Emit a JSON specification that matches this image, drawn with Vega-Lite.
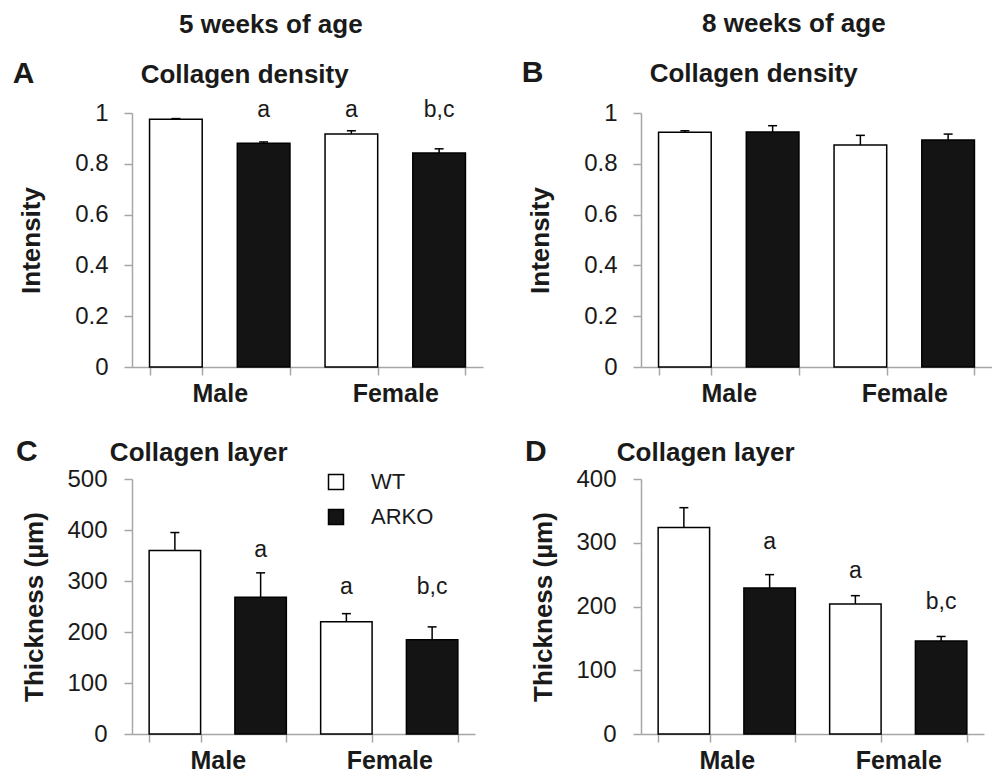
{
  "$schema": "https://vega.github.io/schema/vega-lite/v6.json",
  "padding": {"left": 12, "top": 11, "right": 0, "bottom": 0},
  "background": "white",
  "datasets": {
    "d": [
      {"panel": "A", "grp": "Male WT", "genotype": "WT", "mean": 0.975, "upper": 0.978},
      {"panel": "A", "grp": "Male ARKO", "genotype": "ARKO", "mean": 0.881, "upper": 0.886, "lab": "a", "lab_y": 0.985},
      {"panel": "A", "grp": "Female WT", "genotype": "WT", "mean": 0.917, "upper": 0.930, "lab": "a", "lab_y": 0.985},
      {"panel": "A", "grp": "Female ARKO", "genotype": "ARKO", "mean": 0.843, "upper": 0.859, "lab": "b,c", "lab_y": 0.985},
      {"panel": "B", "grp": "Male WT", "genotype": "WT", "mean": 0.924, "upper": 0.930},
      {"panel": "B", "grp": "Male ARKO", "genotype": "ARKO", "mean": 0.925, "upper": 0.950},
      {"panel": "B", "grp": "Female WT", "genotype": "WT", "mean": 0.874, "upper": 0.912},
      {"panel": "B", "grp": "Female ARKO", "genotype": "ARKO", "mean": 0.894, "upper": 0.917},
      {"panel": "C", "grp": "Male WT", "genotype": "WT", "mean": 360, "upper": 395},
      {"panel": "C", "grp": "Male ARKO", "genotype": "ARKO", "mean": 268, "upper": 316, "lab": "a", "lab_y": 347},
      {"panel": "C", "grp": "Female WT", "genotype": "WT", "mean": 220, "upper": 236, "lab": "a", "lab_y": 274},
      {"panel": "C", "grp": "Female ARKO", "genotype": "ARKO", "mean": 185, "upper": 210, "lab": "b,c", "lab_y": 274},
      {"panel": "D", "grp": "Male WT", "genotype": "WT", "mean": 324, "upper": 355},
      {"panel": "D", "grp": "Male ARKO", "genotype": "ARKO", "mean": 229, "upper": 250, "lab": "a", "lab_y": 290},
      {"panel": "D", "grp": "Female WT", "genotype": "WT", "mean": 204, "upper": 217, "lab": "a", "lab_y": 245},
      {"panel": "D", "grp": "Female ARKO", "genotype": "ARKO", "mean": 146, "upper": 153, "lab": "b,c", "lab_y": 196}
    ]
  },
  "spacing": 37,
  "resolve": {"scale": {"fill": "independent", "x": "independent", "y": "independent"}, "legend": {"fill": "independent"}},
  "hconcat": [
    {
      "title": {"text": "5 weeks of age", "fontSize": 26, "anchor": "middle", "dx": 23, "offset": 21},
      "spacing": 31,
      "resolve": {"scale": {"fill": "independent", "x": "independent", "y": "independent"}, "legend": {"fill": "independent"}},
      "vconcat": [
        {
          "width": 351, "height": 254,
          "title": {"text": "A", "subtitle": "\u200b\u00a0\u00a0\u00a0\u00a0\u00a0\u00a0\u00a0\u00a0\u00a0\u00a0\u00a0\u00a0\u00a0\u00a0\u00a0\u00a0\u00a0\u2009Collagen density", "offset": 10, "dx": -6},
          "data": {"name": "d"},
          "transform": [{"filter": "datum.panel == 'A'"}],
          "encoding": {
            "x": {"field": "grp", "type": "nominal", "sort": ["Male WT", "Male ARKO", "Female WT", "Female ARKO"], "scale": {"paddingInner": 0.4, "paddingOuter": 0.2},
              "axis": {"labelOffset": 43.9, "labelExpr": "datum.value == 'Male WT' ? 'Male' : datum.value == 'Female WT' ? 'Female' : ''"}}
          },
          "layer": [
            {"mark": {"type": "bar", "stroke": "black", "strokeWidth": 1.5},
             "encoding": {"y": {"field": "mean", "type": "quantitative", "title": "Intensity", "scale": {"domain": [0, 1], "nice": false}, "axis": {"values": [0, 0.2, 0.4, 0.6, 0.8, 1], "format": "~g", "titlePadding": 30}},
                          "fill": {"field": "genotype", "type": "nominal", "scale": {"domain": ["WT", "ARKO"], "range": ["white", "#141414"]}, "legend": null}}},
            {"mark": {"type": "rule", "color": "black", "strokeWidth": 1.5},
             "encoding": {"y": {"field": "mean", "type": "quantitative", "title": "Intensity"}, "y2": {"field": "upper"}}},
            {"mark": {"type": "tick", "color": "black", "size": 9, "thickness": 1.5, "opacity": 1},
             "encoding": {"y": {"field": "upper", "type": "quantitative", "title": "Intensity"}}},
            {"transform": [{"filter": "isValid(datum.lab)"}],
             "mark": {"type": "text", "fontSize": 23, "baseline": "alphabetic", "color": "#1a1a1a"},
             "encoding": {"y": {"field": "lab_y", "type": "quantitative", "title": "Intensity"}, "text": {"field": "lab"}}}
          ]
        },
        {
          "width": 343, "height": 255,
          "title": {"text": "C", "subtitle": "\u200b\u00a0\u00a0\u00a0\u00a0\u00a0\u00a0\u00a0\u00a0\u00a0\u00a0\u00a0\u00a0\u00a0Collagen layer", "offset": 0, "dx": -6},
          "data": {"name": "d"},
          "transform": [{"filter": "datum.panel == 'C'"}],
          "encoding": {
            "x": {"field": "grp", "type": "nominal", "sort": ["Male WT", "Male ARKO", "Female WT", "Female ARKO"], "scale": {"paddingInner": 0.4, "paddingOuter": 0.2},
              "axis": {"labelOffset": 42.9, "labelExpr": "datum.value == 'Male WT' ? 'Male' : datum.value == 'Female WT' ? 'Female' : ''"}}
          },
          "layer": [
            {"mark": {"type": "bar", "stroke": "black", "strokeWidth": 1.5},
             "encoding": {"y": {"field": "mean", "type": "quantitative", "title": "Thickness (µm)", "scale": {"domain": [0, 500], "nice": false}, "axis": {"values": [0, 100, 200, 300, 400, 500], "titlePadding": 19, "labelPadding": 17}},
                          "fill": {"field": "genotype", "type": "nominal", "scale": {"domain": ["WT", "ARKO"], "range": ["white", "#141414"]},
                                   "legend": {"title": null, "orient": "none", "legendX": 193, "legendY": -8, "direction": "vertical", "symbolType": "square", "symbolSize": 225, "symbolStrokeColor": "black", "symbolStrokeWidth": 1.5, "labelFontSize": 22, "labelFont": "Liberation Sans", "labelColor": "#1a1a1a", "labelOffset": 24, "rowPadding": 13, "padding": 0}}}},
            {"mark": {"type": "rule", "color": "black", "strokeWidth": 1.5},
             "encoding": {"y": {"field": "mean", "type": "quantitative", "title": "Thickness (µm)"}, "y2": {"field": "upper"}}},
            {"mark": {"type": "tick", "color": "black", "size": 9, "thickness": 1.5, "opacity": 1},
             "encoding": {"y": {"field": "upper", "type": "quantitative", "title": "Thickness (µm)"}}},
            {"transform": [{"filter": "isValid(datum.lab)"}],
             "mark": {"type": "text", "fontSize": 23, "baseline": "alphabetic", "color": "#1a1a1a"},
             "encoding": {"y": {"field": "lab_y", "type": "quantitative", "title": "Thickness (µm)"}, "text": {"field": "lab"}}}
          ]
        }
      ]
    },
    {
      "title": {"text": "8 weeks of age", "fontSize": 26, "anchor": "middle", "dx": 37, "offset": 21},
      "spacing": 31,
      "resolve": {"scale": {"fill": "independent", "x": "independent", "y": "independent"}, "legend": {"fill": "independent"}},
      "vconcat": [
        {
          "width": 351, "height": 254,
          "title": {"text": "B", "subtitle": "\u200b\u00a0\u00a0\u00a0\u00a0\u00a0\u00a0\u00a0\u00a0\u00a0\u00a0\u00a0\u00a0\u00a0\u00a0\u00a0\u00a0\u00a0\u2009Collagen density", "offset": 13, "dx": -6},
          "data": {"name": "d"},
          "transform": [{"filter": "datum.panel == 'B'"}],
          "encoding": {
            "x": {"field": "grp", "type": "nominal", "sort": ["Male WT", "Male ARKO", "Female WT", "Female ARKO"], "scale": {"paddingInner": 0.4, "paddingOuter": 0.2},
              "axis": {"labelOffset": 43.9, "labelExpr": "datum.value == 'Male WT' ? 'Male' : datum.value == 'Female WT' ? 'Female' : ''"}}
          },
          "layer": [
            {"mark": {"type": "bar", "stroke": "black", "strokeWidth": 1.5},
             "encoding": {"y": {"field": "mean", "type": "quantitative", "title": "Intensity", "scale": {"domain": [0, 1], "nice": false}, "axis": {"values": [0, 0.2, 0.4, 0.6, 0.8, 1], "format": "~g", "titlePadding": 30}},
                          "fill": {"field": "genotype", "type": "nominal", "scale": {"domain": ["WT", "ARKO"], "range": ["white", "#141414"]}, "legend": null}}},
            {"mark": {"type": "rule", "color": "black", "strokeWidth": 1.5},
             "encoding": {"y": {"field": "mean", "type": "quantitative", "title": "Intensity"}, "y2": {"field": "upper"}}},
            {"mark": {"type": "tick", "color": "black", "size": 9, "thickness": 1.5, "opacity": 1},
             "encoding": {"y": {"field": "upper", "type": "quantitative", "title": "Intensity"}}}
          ]
        },
        {
          "width": 343, "height": 255,
          "title": {"text": "D", "subtitle": "\u200b\u00a0\u00a0\u00a0\u00a0\u00a0\u00a0\u00a0\u00a0\u00a0\u00a0\u00a0\u00a0\u2009Collagen layer", "offset": 0, "dx": -6},
          "data": {"name": "d"},
          "transform": [{"filter": "datum.panel == 'D'"}],
          "encoding": {
            "x": {"field": "grp", "type": "nominal", "sort": ["Male WT", "Male ARKO", "Female WT", "Female ARKO"], "scale": {"paddingInner": 0.4, "paddingOuter": 0.2},
              "axis": {"labelOffset": 42.9, "labelExpr": "datum.value == 'Male WT' ? 'Male' : datum.value == 'Female WT' ? 'Female' : ''"}}
          },
          "layer": [
            {"mark": {"type": "bar", "stroke": "black", "strokeWidth": 1.5},
             "encoding": {"y": {"field": "mean", "type": "quantitative", "title": "Thickness (µm)", "scale": {"domain": [0, 400], "nice": false}, "axis": {"values": [0, 100, 200, 300, 400], "titlePadding": 19, "labelPadding": 17}},
                          "fill": {"field": "genotype", "type": "nominal", "scale": {"domain": ["WT", "ARKO"], "range": ["white", "#141414"]}, "legend": null}}},
            {"mark": {"type": "rule", "color": "black", "strokeWidth": 1.5},
             "encoding": {"y": {"field": "mean", "type": "quantitative", "title": "Thickness (µm)"}, "y2": {"field": "upper"}}},
            {"mark": {"type": "tick", "color": "black", "size": 9, "thickness": 1.5, "opacity": 1},
             "encoding": {"y": {"field": "upper", "type": "quantitative", "title": "Thickness (µm)"}}},
            {"transform": [{"filter": "isValid(datum.lab)"}],
             "mark": {"type": "text", "fontSize": 23, "baseline": "alphabetic", "color": "#1a1a1a"},
             "encoding": {"y": {"field": "lab_y", "type": "quantitative", "title": "Thickness (µm)"}, "text": {"field": "lab"}}}
          ]
        }
      ]
    }
  ],
  "config": {
    "font": "Liberation Sans",
    "view": {"stroke": null},
    "title": {"font": "Liberation Sans", "fontWeight": "bold", "color": "#1a1a1a", "anchor": "start", "frame": "bounds", "fontSize": 30, "subtitleFont": "Liberation Sans", "subtitleFontSize": 26, "subtitleFontWeight": "bold", "subtitleColor": "#1a1a1a", "subtitlePadding": -27},
    "axis": {"grid": false, "domainColor": "#a6a6a6", "tickColor": "#a6a6a6", "domainWidth": 1.5, "tickWidth": 1.5, "tickSize": 8, "labelFont": "Liberation Sans", "titleFont": "Liberation Sans", "labelColor": "#1a1a1a", "titleColor": "#1a1a1a"},
    "axisY": {"labelFontSize": 24, "labelPadding": 16, "titleFontSize": 26, "titleFontWeight": "bold"},
    "axisX": {"title": null, "labelAngle": 0, "labelFontSize": 25, "labelFontWeight": "bold", "labelPadding": 6, "tickBand": "extent", "labelOverlap": false}
  }
}
